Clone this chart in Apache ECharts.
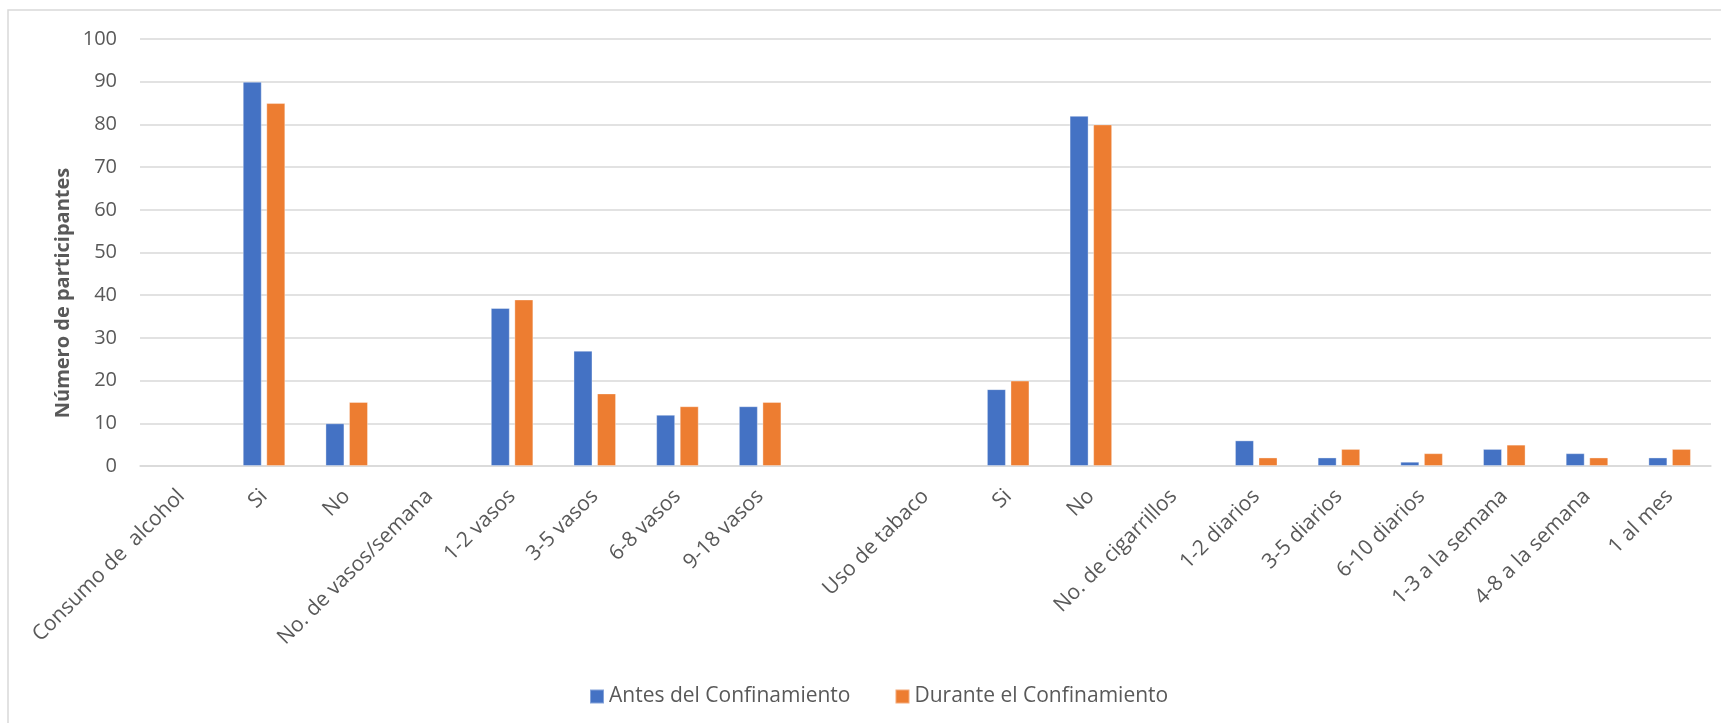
<!DOCTYPE html>
<html>
<head>
<meta charset="utf-8">
<title>Consumo de alcohol y tabaco</title>
<script src="https://cdn.jsdelivr.net/npm/echarts@6/dist/echarts.min.js"></script>
<style>
  html, body { margin: 0; padding: 0; background: #ffffff; }
  #chart { width: 1721px; height: 723px; }
</style>
</head>
<body>
<div id="chart"></div>
<script>
// Categories along the x axis (an empty slot separates the alcohol and tobacco blocks)
const categories = [
  'Consumo de  alcohol', 'Si', 'No', 'No. de vasos/semana',
  '1-2 vasos', '3-5 vasos', '6-8 vasos', '9-18 vasos', '',
  'Uso de tabaco', 'Si', 'No', 'No. de cigarrillos',
  '1-2 diarios', '3-5 diarios', '6-10 diarios',
  '1-3 a la semana', '4-8 a la semana', '1 al mes'
];

// Number of participants per category
const antes = [null, 90, 10, null, 37, 27, 12, 14, null, null, 18, 82, null, 6, 2, 1, 4, 3, 2];
const durante = [null, 85, 15, null, 39, 17, 14, 15, null, null, 20, 80, null, 2, 4, 3, 5, 2, 4];

const seriesNames = ['Antes del Confinamiento', 'Durante el Confinamiento'];
const yTicks = { min: 0, max: 100, interval: 10 };
const yTitle = 'Número de participantes';

const textColor = '#595959';
const gridColor = '#d9d9d9';
const fontFamily = '"Open Sans", "Noto Sans", sans-serif';

const chart = echarts.init(document.getElementById('chart'), null, { renderer: 'canvas' });

chart.setOption({
  animation: false,
  backgroundColor: '#ffffff',
  color: ['#4472C4', '#ED7D31'],
  grid: { left: 140, right: 10, top: 39, bottom: 257, containLabel: false },
  legend: {
    data: seriesNames,
    left: 584,
    top: 681,
    itemWidth: 14,
    itemHeight: 14,
    itemGap: 44,
    icon: 'rect',
    textStyle: { color: textColor, fontSize: 21, fontFamily: fontFamily, padding: [0, 0, 0, 0] }
  },
  xAxis: {
    type: 'category',
    data: categories,
    axisLine: { show: true, lineStyle: { color: gridColor, width: 1.5 } },
    axisTick: { show: false },
    axisLabel: {
      interval: 0,
      rotate: 45,
      margin: 27,
      color: textColor,
      fontSize: 21,
      fontFamily: fontFamily
    }
  },
  yAxis: {
    type: 'value',
    min: yTicks.min,
    max: yTicks.max,
    interval: yTicks.interval,
    axisLine: { show: false },
    axisTick: { show: false },
    splitLine: { lineStyle: { color: gridColor, width: 1.5 } },
    axisLabel: { margin: 23, color: textColor, fontSize: 20, fontFamily: fontFamily }
  },
  graphic: [
    {
      // chart frame
      type: 'rect',
      silent: true,
      shape: { x: 8, y: 10, width: 1760, height: 760 },
      style: { fill: 'none', stroke: gridColor, lineWidth: 1.5 }
    },
    {
      type: 'text',
      silent: true,
      x: 63,
      y: 293,
      rotation: Math.PI / 2,
      style: {
        text: yTitle,
        fill: textColor,
        font: 'bold 20px ' + fontFamily,
        textAlign: 'center',
        textVerticalAlign: 'middle'
      }
    }
  ],
  series: [
    {
      name: seriesNames[0],
      type: 'bar',
      data: antes,
      barWidth: 19,
      barGap: '24%',
      itemStyle: { borderColor: 'rgba(255,255,255,0.35)', borderWidth: 1 }
    },
    {
      name: seriesNames[1],
      type: 'bar',
      data: durante,
      barWidth: 19,
      barGap: '24%',
      itemStyle: { borderColor: 'rgba(255,255,255,0.35)', borderWidth: 1 }
    }
  ]
});
</script>
</body>
</html>
